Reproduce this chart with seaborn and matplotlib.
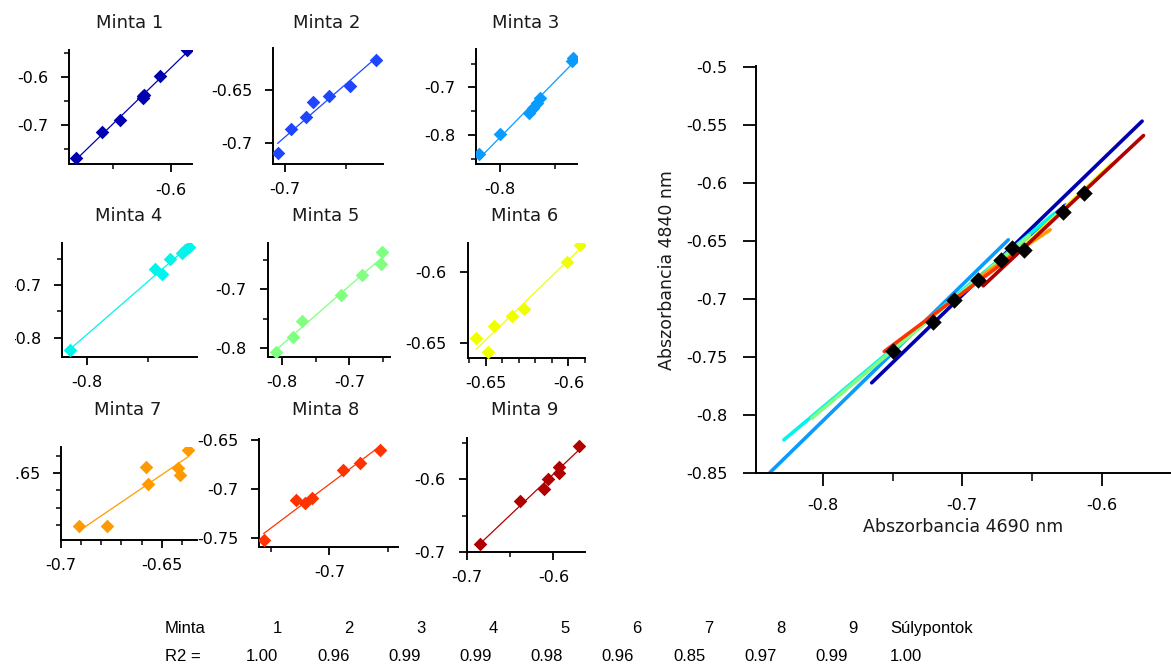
import numpy as np
import pandas as pd
import matplotlib
matplotlib.use("Agg")
import matplotlib.pyplot as plt
import seaborn as sns
from matplotlib.ticker import FuncFormatter
from matplotlib.transforms import Bbox

# Minta 1..9 : abszorbancia 4690 nm (x) es 4840 nm (y)
m1_x = [-0.765, -0.720, -0.688, -0.649, -0.647, -0.648, -0.619, -0.571]
m1_y = [-0.769, -0.715, -0.689, -0.643, -0.637, -0.640, -0.597, -0.543]
m2_x = [-0.706, -0.695, -0.683, -0.677, -0.664, -0.647, -0.626]
m2_y = [-0.710, -0.687, -0.675, -0.661, -0.655, -0.646, -0.621]
m3_x = [-0.838, -0.800, -0.747, -0.739, -0.733, -0.727, -0.667, -0.668]
m3_y = [-0.841, -0.799, -0.754, -0.743, -0.733, -0.722, -0.638, -0.645]
m4_x = [-0.828, -0.689, -0.678, -0.664, -0.645, -0.640, -0.634]
m4_y = [-0.823, -0.670, -0.680, -0.651, -0.640, -0.634, -0.628]
m5_x = [-0.808, -0.784, -0.770, -0.712, -0.682, -0.653, -0.652]
m5_y = [-0.807, -0.781, -0.754, -0.709, -0.676, -0.656, -0.636]
m6_x = [-0.656, -0.649, -0.645, -0.634, -0.627, -0.601, -0.593]
m6_y = [-0.646, -0.656, -0.638, -0.631, -0.626, -0.593, -0.581]
m7_x = [-0.691, -0.677, -0.658, -0.657, -0.642, -0.641, -0.637]
m7_y = [-0.681, -0.681, -0.646, -0.656, -0.647, -0.651, -0.636]
m8_x = [-0.756, -0.728, -0.721, -0.715, -0.688, -0.674, -0.657]
m8_y = [-0.752, -0.711, -0.714, -0.709, -0.681, -0.673, -0.660]
m9_x = [-0.685, -0.638, -0.611, -0.606, -0.594, -0.593, -0.570]
m9_y = [-0.689, -0.630, -0.613, -0.599, -0.583, -0.591, -0.555]

# Sulypontok (nagy abra fekete rombuszai)
cent_x = [-0.750, -0.721, -0.706, -0.689, -0.672, -0.664, -0.656, -0.628, -0.6125]
cent_y = [-0.745, -0.720, -0.701, -0.684, -0.666, -0.656, -0.658, -0.625, -0.609]

minta_labels = ["1", "2", "3", "4", "5", "6", "7", "8", "9", "Súlypontok"]
r2_values = ["1.00", "0.96", "0.99", "0.99", "0.98", "0.96", "0.85", "0.97", "0.99", "1.00"]

samples = [(m1_x, m1_y), (m2_x, m2_y), (m3_x, m3_y), (m4_x, m4_y), (m5_x, m5_y),
           (m6_x, m6_y), (m7_x, m7_y), (m8_x, m8_y), (m9_x, m9_y)]
colors = ["#0000B0", "#1E46FF", "#0A9BFF", "#00F5EB", "#80FF80",
          "#F0FF00", "#FF9A00", "#FF3300", "#B00000"]

W, H = 1171, 666

# pixel boxes (x0, y0, x1, y1) and axis settings of the small panels
panels = [
    dict(box=(69, 50, 192, 164.5), xlim=(-0.777, -0.563), ylim=(-0.782, -0.543),
         xt=[-0.6], xm=[-0.7], yt=[-0.7, -0.6], ym=[-0.75, -0.65, -0.55]),
    dict(box=(273.3, 48.3, 383.3, 164), xlim=(-0.7095, -0.620), ylim=(-0.720, -0.610),
         xt=[-0.7], xm=[-0.65], yt=[-0.7, -0.65], ym=[]),
    dict(box=(476, 49.3, 577.3, 164), xlim=(-0.844, -0.659), ylim=(-0.861, -0.620),
         xt=[-0.8], xm=[-0.7], yt=[-0.8, -0.7], ym=[-0.85, -0.75, -0.65]),
    dict(box=(62.3, 243.3, 196.7, 357.3), xlim=(-0.841, -0.621), ylim=(-0.837, -0.621),
         xt=[-0.8], xm=[-0.7], yt=[-0.8, -0.7], ym=[-0.75, -0.65]),
    dict(box=(267.7, 243.3, 390, 357.3), xlim=(-0.821, -0.640), ylim=(-0.816, -0.621),
         xt=[-0.8, -0.7], xm=[-0.75, -0.65], yt=[-0.8, -0.7], ym=[-0.75, -0.65]),
    dict(box=(467.7, 243.3, 585, 358.3), xlim=(-0.661, -0.5906), ylim=(-0.6605, -0.580),
         xt=[-0.65, -0.6], xm=[-0.66, -0.64, -0.63, -0.62, -0.61, -0.59],
         yt=[-0.65, -0.6], ym=[]),
    dict(box=(61, 447.3, 196.7, 540), xlim=(-0.700, -0.6326), ylim=(-0.689, -0.6347),
         xt=[-0.7, -0.65], xm=[-0.69, -0.68, -0.67, -0.66, -0.64],
         yt=[-0.65], ym=[-0.68, -0.67, -0.66, -0.64]),
    dict(box=(259.3, 439.3, 398.3, 546.7), xlim=(-0.7597, -0.6412), ylim=(-0.7585, -0.6493),
         xt=[-0.7], xm=[-0.75, -0.65], yt=[-0.75, -0.7, -0.65], ym=[]),
    dict(box=(466.7, 437.7, 585, 552.3), xlim=(-0.700, -0.5635), ylim=(-0.700, -0.543),
         xt=[-0.7, -0.6], xm=[-0.65], yt=[-0.7, -0.6], ym=[-0.65, -0.55]),
]
title_pos = [(129.5, 28), (326.3, 28), (526, 28),
             (128.5, 221), (326, 221), (524.7, 221),
             (128, 415), (326, 415), (524.7, 415)]


def px_axes(fig, x0, y0, x1, y1):
    return fig.add_axes([x0 / W, 1 - y1 / H, (x1 - x0) / W, (y1 - y0) / H])


def style_axes(ax, major_len=6, minor_len=3.5, xpad=7, ypad=9):
    sns.despine(ax=ax)
    for s in ("left", "bottom"):
        ax.spines[s].set_linewidth(1.4)
        ax.spines[s].set_color("black")
    ax.tick_params(which="major", length=major_len, width=1.3, direction="out",
                   labelsize=11.5, colors="black")
    ax.tick_params(which="minor", length=minor_len, width=1.3, direction="out")
    ax.tick_params(axis="x", which="major", pad=xpad)
    ax.tick_params(axis="y", which="major", pad=ypad)
    fmt = FuncFormatter(lambda v, p: f"{v:g}")
    ax.xaxis.set_major_formatter(fmt)
    ax.yaxis.set_major_formatter(fmt)
    ax.set_xlabel("")
    ax.set_ylabel("")
    ax.patch.set_alpha(0)


sns.set_style("ticks")
plt.rcParams["font.family"] = ["DejaVu Sans"]

fig = plt.figure(figsize=(W / 100, H / 100), dpi=100)

left_clip = Bbox.from_extents(15, 0, W, H)

for i, ((xs, ys), cfg) in enumerate(zip(samples, panels)):
    ax = px_axes(fig, *cfg["box"])
    df = pd.DataFrame({"x": xs, "y": ys})
    sns.regplot(data=df, x="x", y="y", scatter=False, ci=None, truncate=True,
                color=colors[i], line_kws={"lw": 0.9}, ax=ax)
    sns.scatterplot(data=df, x="x", y="y", marker="D", s=48, color=colors[i],
                    linewidth=0, ax=ax, legend=False, zorder=3)
    ax.set_xlim(*cfg["xlim"])
    ax.set_ylim(*cfg["ylim"])
    ax.set_xticks(cfg["xt"])
    ax.set_xticks(cfg["xm"], minor=True)
    ax.set_yticks(cfg["yt"])
    ax.set_yticks(cfg["ym"], minor=True)
    style_axes(ax)
    if i % 3 == 0:
        for lab in ax.get_yticklabels():
            lab.set_clip_box(left_clip)
            lab.set_clip_on(True)
    tx, ty = title_pos[i]
    fig.text(tx / W, 1 - ty / H, f"Minta {i + 1}", ha="center", va="baseline",
             fontsize=13, color="#1a1a1a")

# nagy abra: regresszios egyenesek + sulypontok
big = px_axes(fig, 756, 66, 1170, 473.3)
for i, (xs, ys) in enumerate(samples):
    df = pd.DataFrame({"x": xs, "y": ys})
    sns.regplot(data=df, x="x", y="y", scatter=False, ci=None, truncate=True,
                color=colors[i], line_kws={"lw": 2.6}, ax=big)
cent = pd.DataFrame({"x": cent_x, "y": cent_y})
sns.scatterplot(data=cent, x="x", y="y", marker="D", s=70, color="black",
                linewidth=0, ax=big, legend=False, zorder=5)
big.set_xlim(-0.848, -0.551)
big.set_ylim(-0.85, -0.4994)
big.set_xticks([-0.8, -0.7, -0.6])
big.set_xticks([-0.75, -0.65], minor=True)
big.set_yticks([-0.85, -0.8, -0.75, -0.7, -0.65, -0.6, -0.55, -0.5])
style_axes(big, major_len=9.5, minor_len=6, xpad=8, ypad=11)
big.set_xlabel("Abszorbancia 4690 nm", fontsize=12.5, labelpad=4, color="#1a1a1a")
big.set_ylabel("Abszorbancia 4840 nm", fontsize=12.5, labelpad=7, color="#1a1a1a")

# R2 tablazat alul
tfont = dict(family=["Liberation Sans", "DejaVu Sans"], fontsize=12, color="black")
fig.text(165 / W, 1 - 633 / H, "Minta", ha="left", va="baseline", **tfont)
fig.text(165 / W, 1 - 661 / H, "R2 =", ha="left", va="baseline", **tfont)
for i, (lab, r2) in enumerate(zip(minta_labels, r2_values)):
    if i < 9:
        fig.text((277 + 72 * i) / W, 1 - 633 / H, lab, ha="center", va="baseline", **tfont)
        fig.text((262 + 71.2 * i) / W, 1 - 661 / H, r2, ha="center", va="baseline", **tfont)
    else:
        fig.text(890 / W, 1 - 633 / H, lab, ha="left", va="baseline", **tfont)
        fig.text(890 / W, 1 - 661 / H, r2, ha="left", va="baseline", **tfont)

fig.savefig("out.png", dpi=100)
